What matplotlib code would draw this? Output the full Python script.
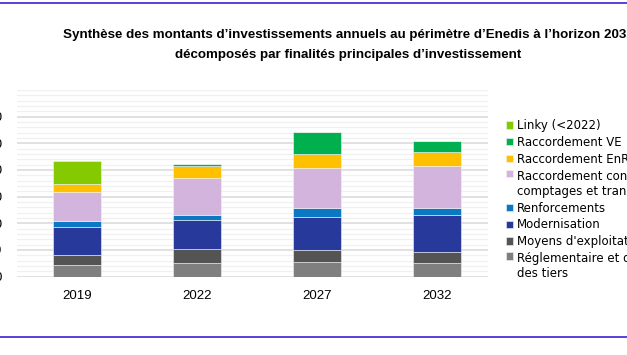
import matplotlib

matplotlib.use("Agg")
import matplotlib.pyplot as plt
from matplotlib.lines import Line2D
from matplotlib.ticker import MultipleLocator

# Montants annuels d'investissement (M€)
years = ["2019", "2022", "2027", "2032"]
reglementaire = [420, 500, 540, 500]
moyens = [380, 540, 440, 430]
modernisation = [1050, 1090, 1270, 1360]
renforcements = [250, 190, 320, 290]
racc_conso = [1080, 1360, 1490, 1580]
racc_enr = [290, 460, 550, 530]
racc_ve = [0, 80, 830, 380]
linky = [850, 0, 0, 0]

series = [
    ("Réglementaire et déplacements\ndes tiers", reglementaire, "#7f7f7f"),
    ("Moyens d'exploitation", moyens, "#545454"),
    ("Modernisation", modernisation, "#273a9b"),
    ("Renforcements", renforcements, "#0b78c6"),
    ("Raccordement consommateurs,\ncomptages et transformation", racc_conso, "#d2b4dc"),
    ("Raccordement EnR", racc_enr, "#ffc000"),
    ("Raccordement VE", racc_ve, "#00b04f"),
    ("Linky (<2022)", linky, "#85c900"),
]

y_ticks = [0, 1000, 2000, 3000, 4000, 5000, 6000]
y_labels = ["0", "1 000", "2 000", "3 000", "4 000", "5 000", "6 000"]

plt.rcParams["font.family"] = ["Liberation Sans", "DejaVu Sans"]

fig = plt.figure(figsize=(6.27, 3.55), dpi=100)
ax = fig.add_axes([17 / 627, 78.5 / 355, 471 / 627, 186.5 / 355])

x = range(len(years))
bottom = [0] * len(years)
handles = []
for label, values, color in series:
    bars = ax.bar(x, values, 0.4, bottom=bottom, color=color,
                  edgecolor="#f4f4f4", linewidth=0.4, label=label, zorder=3)
    handles.append(bars)
    bottom = [b + v for b, v in zip(bottom, values)]

ax.set_xlim(-0.5, 3.425)
ax.set_ylim(0, 7000)
ax.set_xticks(list(x), years, fontsize=9.5)
ax.set_yticks(y_ticks, y_labels, fontsize=9.5)
ax.yaxis.set_minor_locator(MultipleLocator(200))
ax.tick_params(axis="both", which="both", length=0)
ax.tick_params(axis="y", pad=11)
ax.tick_params(axis="x", pad=9.5)
ax.grid(axis="y", which="major", color="#d9d9d9", linewidth=1.1, zorder=0)
ax.grid(axis="y", which="minor", color="#f0f0f0", linewidth=0.9, zorder=0)
ax.axhline(7000, color="#d9d9d9", linewidth=1.1, zorder=0)
for side in ax.spines.values():
    side.set_visible(False)

leg = fig.legend(handles[::-1], [s[0] for s in series][::-1],
                 loc="upper left", bbox_to_anchor=(506 / 627, (355 - 119) / 355),
                 frameon=False, prop={"family": "DejaVu Sans", "size": 8.5},
                 borderpad=0, borderaxespad=0,
                 handlelength=0.6, handleheight=0.6, handletextpad=0.3,
                 labelspacing=0.33)

# square markers of two-line entries sit on the first line, as in the original
try:
    for column in leg._legend_handle_box.get_children():
        for entry in column.get_children():
            text_box = entry.get_children()[1]
            if "\n" in text_box.get_text():
                entry.align = "top"
except (AttributeError, IndexError):
    pass

fig.text(63 / 627, 1 - 35 / 355,
         "Synthèse des montants d’investissements annuels au périmètre d’Enedis à l’horizon 2032",
         ha="left", va="center", fontsize=9.6, fontweight="bold")
fig.text(348 / 627, 1 - 55 / 355,
         "décomposés par finalités principales d’investissement",
         ha="center", va="center", fontsize=9.6, fontweight="bold")

for yy in (1 - 3 / 355, 1 - 337 / 355):
    fig.add_artist(Line2D([0, 1], [yy, yy], transform=fig.transFigure,
                          color="#4a33d9", linewidth=1.3))

fig.savefig("out.png", dpi=100)
